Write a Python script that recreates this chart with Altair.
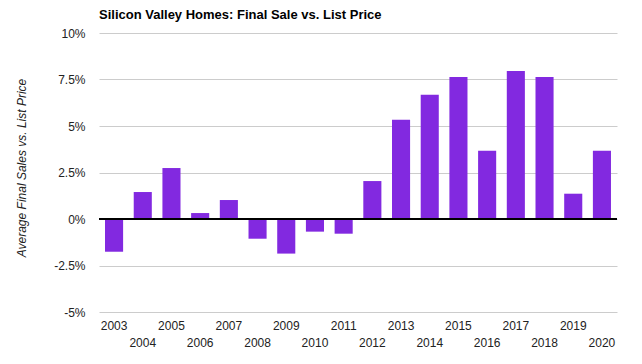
import altair as alt
import pandas as pd

years = [str(y) for y in range(2003, 2021)]
values = [-1.76, 1.45, 2.74, 0.32, 1.02, -1.06, -1.86, -0.68, -0.79, 2.04,
          5.34, 6.68, 7.64, 3.67, 7.96, 7.64, 1.36, 3.67]
y_ticks = [-5, -2.5, 0, 2.5, 5, 7.5, 10]

df = pd.DataFrame({"year": years, "value": values})
FONT = "Liberation Sans"

x_enc = alt.X(
    "year:O", sort=None,
    scale=alt.Scale(paddingInner=0.37, paddingOuter=0.21),
    axis=alt.Axis(title=None, labelAngle=0, domain=False, ticks=False,
                  labelPadding=8, labelFontSize=12, labelFont=FONT,
                  labelColor="#222222", labelOverlap=False, labelLineHeight=17,
                  labelExpr="toNumber(datum.value) % 2 == 1 ? datum.label : ['', datum.label]"),
)
y_enc = alt.Y(
    "value:Q",
    scale=alt.Scale(domain=[-5, 10], nice=False),
    axis=alt.Axis(title="Average Final Sales vs. List Price", values=y_ticks,
                  labelExpr="datum.value + '%'", domain=False, ticks=False,
                  labelPadding=14, labelFontSize=12, labelFont=FONT, labelColor="#222222",
                  gridColor="#cccccc", titleFont=FONT, titleFontSize=12,
                  titleFontStyle="italic", titleFontWeight="normal", titleColor="#222222",
                  titleX=-71, titleY=134.5),
)

bars = alt.Chart(df).mark_bar(color="#8229e0").encode(x=x_enc, y=y_enc)
zero = alt.Chart(df).mark_rule(color="black", strokeWidth=1).encode(y=alt.datum(0))

chart = alt.layer(bars, zero).properties(
    width=518, height=279,
    title=alt.TitleParams("Silicon Valley Homes: Final Sale vs. List Price", anchor="start",
                          frame="group", font=FONT, fontSize=13, fontWeight="bold",
                          color="#000000", offset=5),
    autosize=alt.AutoSizeParams(type="none"),
    padding={"left": 91, "top": 25, "right": 17, "bottom": 36},
).configure_view(stroke=None)

chart.save("out.html", embed_options={"renderer": "svg", "actions": False})
